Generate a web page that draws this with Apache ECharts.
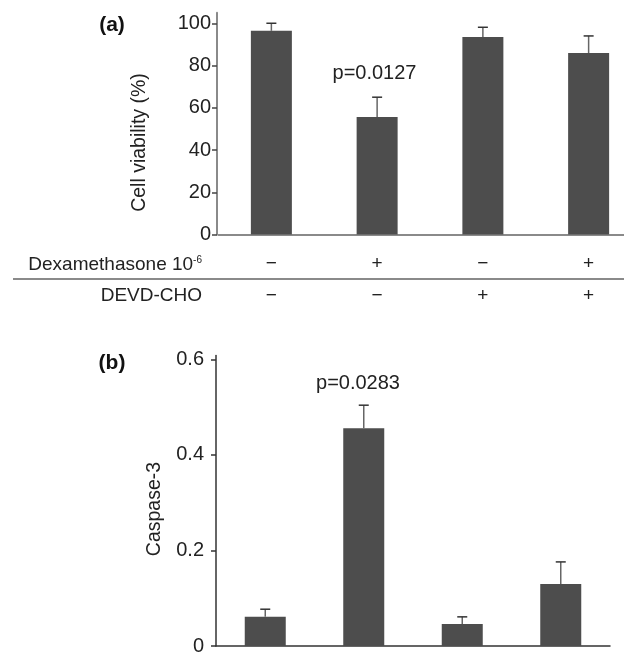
<!DOCTYPE html>
<html>
<head>
<meta charset="utf-8">
<script src="https://cdn.jsdelivr.net/npm/echarts@6/dist/echarts.min.js"></script>
<style>html,body{margin:0;padding:0;background:#fff}#c{width:624px;height:652px}</style>
</head>
<body>
<div id="c"></div>
<script>
// ---- data ----
const categories = ['C1', 'C2', 'C3', 'C4'];
const dexSigns = ['−', '+', '−', '+'];
const devdSigns = ['−', '−', '+', '+'];
const viability = [96.4, 55.6, 93.5, 85.9];
const viabilityErr = [3.6, 9.4, 4.6, 8.1];
const caspase = [0.061, 0.456, 0.046, 0.130];
const caspaseErr = [0.016, 0.048, 0.015, 0.046];
const viabilityTicks = [0, 20, 40, 60, 80, 100];
const caspaseTicks = [0, 0.2, 0.4, 0.6];
const pA = 'p=0.0127';
const pB = 'p=0.0283';

const FONT = 'Liberation Sans, Arial, Helvetica, sans-serif';
const TXT = '#222';
const BAR = '#4d4d4d';

function errRender(params, api) {
  const x = api.value(0), y = api.value(1), e = api.value(2);
  const b = api.coord([x, y]);
  const t = api.coord([x, y + e]);
  const hw = 5;
  return {
    type: 'group',
    children: [
      { type: 'line', shape: { x1: b[0], y1: b[1], x2: t[0], y2: t[1] }, style: { stroke: '#666', lineWidth: 1.5 } },
      { type: 'line', shape: { x1: t[0] - hw, y1: t[1], x2: t[0] + hw, y2: t[1] }, style: { stroke: '#333', lineWidth: 1.5 } }
    ]
  };
}

const chart = echarts.init(document.getElementById('c'), null, { renderer: 'canvas' });
chart.setOption({
  animation: false,
  backgroundColor: '#fff',
  textStyle: { fontFamily: FONT },
  grid: [
    { left: 218.5, top: 12.7, width: 423, height: 221.8, outerBoundsMode: 'none', containLabel: false },
    { left: 216, top: 355.5, width: 394, height: 290.5, outerBoundsMode: 'none', containLabel: false }
  ],
  xAxis: [
    {
      type: 'category', gridIndex: 0, data: categories,
      axisLine: { lineStyle: { color: '#8a8a8a', width: 2 } },
      axisTick: { show: false },
      axisLabel: { margin: 20, fontSize: 19, color: TXT, fontFamily: FONT, formatter: (v, i) => dexSigns[i] }
    },
    {
      type: 'category', gridIndex: 0, data: categories, position: 'bottom',
      axisLine: { show: false },
      axisTick: { show: false },
      axisLabel: { margin: 52, fontSize: 19, color: TXT, fontFamily: FONT, formatter: (v, i) => devdSigns[i] }
    },
    {
      type: 'category', gridIndex: 1, data: categories,
      axisLine: { lineStyle: { color: '#333', width: 1.5 } },
      axisTick: { show: false },
      axisLabel: { show: false }
    }
  ],
  yAxis: [
    {
      type: 'value', gridIndex: 0, min: 0, max: 105, offset: 1.5,
      splitLine: { show: false },
      axisLine: { show: true, lineStyle: { color: '#8a8a8a', width: 2 } },
      axisTick: { show: true, length: 5, lineStyle: { color: '#444', width: 1.5 }, customValues: viabilityTicks },
      axisLabel: { fontSize: 20, color: TXT, margin: 6, fontFamily: FONT, customValues: viabilityTicks }
    },
    {
      type: 'value', gridIndex: 1, min: 0, max: 0.608,
      splitLine: { show: false },
      axisLine: { show: true, lineStyle: { color: '#333', width: 1.5 } },
      axisTick: { show: true, length: 5, lineStyle: { color: '#333', width: 1.5 }, customValues: caspaseTicks },
      axisLabel: { fontSize: 20, color: TXT, margin: 12, fontFamily: FONT, customValues: caspaseTicks,
                   formatter: v => (v === 0 ? '0' : v.toFixed(1)) }
    }
  ],
  series: [
    { type: 'bar', xAxisIndex: 0, yAxisIndex: 0, data: viability, barWidth: 41, itemStyle: { color: BAR } },
    { type: 'custom', xAxisIndex: 0, yAxisIndex: 0, renderItem: errRender, z: 5,
      data: viability.map((v, i) => [i, v, viabilityErr[i]]) },
    { type: 'bar', xAxisIndex: 2, yAxisIndex: 1, data: caspase, barWidth: 41, itemStyle: { color: BAR } },
    { type: 'custom', xAxisIndex: 2, yAxisIndex: 1, renderItem: errRender, z: 5,
      data: caspase.map((v, i) => [i, v, caspaseErr[i]]) }
  ],
  graphic: [
    { type: 'text', x: 112, y: 25, style: { text: '(a)', font: 'bold 21px ' + FONT, fill: '#111', align: 'center', verticalAlign: 'middle' } },
    { type: 'text', x: 112, y: 363, style: { text: '(b)', font: 'bold 21px ' + FONT, fill: '#111', align: 'center', verticalAlign: 'middle' } },
    { type: 'text', x: 374.5, y: 73, style: { text: pA, font: '20px ' + FONT, fill: TXT, align: 'center', verticalAlign: 'middle' } },
    { type: 'text', x: 358, y: 383, style: { text: pB, font: '20px ' + FONT, fill: TXT, align: 'center', verticalAlign: 'middle' } },
    { type: 'text', x: 140, y: 142.5, rotation: Math.PI / 2, style: { text: 'Cell viability (%)', font: '19.5px ' + FONT, fill: TXT, align: 'center', verticalAlign: 'middle' } },
    { type: 'text', x: 155, y: 509, rotation: Math.PI / 2, style: { text: 'Caspase-3', font: '19.5px ' + FONT, fill: TXT, align: 'center', verticalAlign: 'middle' } },
    { type: 'text', x: 202, y: 265, style: {
        text: '{m|Dexamethasone 10}{s|-6}', align: 'right', verticalAlign: 'middle', fill: TXT,
        rich: { m: { fontSize: 19, fontFamily: FONT, fill: TXT }, s: { fontSize: 10, fontFamily: FONT, fill: TXT, padding: [0, 0, 10, 0] } } } },
    { type: 'text', x: 202, y: 296, style: { text: 'DEVD-CHO', font: '19px ' + FONT, fill: TXT, align: 'right', verticalAlign: 'middle' } },
    { type: 'line', shape: { x1: 13, y1: 279, x2: 624, y2: 279 }, style: { stroke: '#8a8a8a', lineWidth: 2 } }
  ]
});
</script>
</body>
</html>
